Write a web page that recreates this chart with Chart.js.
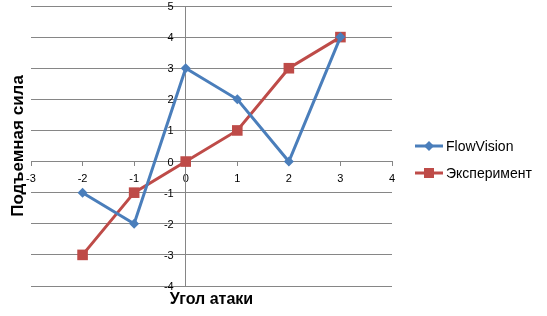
<!DOCTYPE html>
<html>
<head>
<meta charset="utf-8">
<script src="https://cdn.jsdelivr.net/npm/chart.js@4.4.1/dist/chart.umd.min.js"></script>
<style>
  html, body { margin: 0; padding: 0; background: #fff; overflow: hidden; }
  #wrap { width: 547px; height: 316px; position: relative; overflow: hidden; }
  /* line charts keep ~8px round the plot for the big markers; shift up 2px to match */
  #chart { position: absolute; left: 0; top: -2px; }
</style>
</head>
<body>
<div id="wrap"><canvas id="chart" width="547" height="318"></canvas></div>
<script>
// angle of attack vs lift
const anglesX = [-2, -1, 0, 1, 2, 3];
const flowVisionY = [-1, -2, 3, 2, 0, 4];
const experimentY = [-3, -1, 0, 1, 3, 4];
const seriesNames = ['FlowVision', 'Эксперимент'];
const xTitle = 'Угол атаки';
const yTitle = 'Подъемная сила';

const BLUE = '#4a7ebb';
const RED = '#be4b48';
const GRID = '#868686';
const FONT = '"Liberation Sans", Arial, sans-serif';
const SHIFT = 2; // canvas is moved up by this much

const toPoints = ys => anglesX.map((x, i) => ({ x, y: ys[i] }));

// no extra room for overflowing tick labels, layout padding decides the plot box
const noOverflow = scale => {
  scale.paddingTop = 0;
  scale.paddingBottom = 0;
  scale.paddingLeft = 0;
  scale.paddingRight = 0;
};

// axis titles, y tick labels (left of the crossing axis) + legend
const decorPlugin = {
  id: 'decor',
  afterDraw(chart) {
    const ctx = chart.ctx;
    const area = chart.chartArea;
    const xs = chart.scales.x, ys = chart.scales.y;

    // y tick labels, right aligned a bit left of the y axis
    ctx.save();
    ctx.fillStyle = '#000';
    ctx.font = '11px ' + FONT;
    ctx.textAlign = 'right';
    ctx.textBaseline = 'middle';
    const axisX = xs.getPixelForValue(0);
    ys.ticks.forEach(t => {
      ctx.fillText(String(t.value), axisX - 12, ys.getPixelForValue(t.value) + 1);
    });
    ctx.restore();

    ctx.save();
    ctx.fillStyle = '#000';
    ctx.textAlign = 'center';
    ctx.textBaseline = 'middle';
    ctx.font = 'bold 16px ' + FONT;
    ctx.fillText(xTitle, (area.left + area.right) / 2, 300 + SHIFT);
    ctx.font = 'bold 17px ' + FONT;
    ctx.translate(18, (area.top + area.bottom) / 2);
    ctx.rotate(-Math.PI / 2);
    ctx.fillText(yTitle, 0, 0);
    ctx.restore();

    // legend
    const items = [
      { name: seriesNames[0], color: BLUE, y: 146 + SHIFT, marker: 'diamond' },
      { name: seriesNames[1], color: RED, y: 173 + SHIFT, marker: 'square' }
    ];
    ctx.save();
    items.forEach(it => {
      ctx.strokeStyle = it.color;
      ctx.lineWidth = 3;
      ctx.beginPath();
      ctx.moveTo(415, it.y);
      ctx.lineTo(443, it.y);
      ctx.stroke();
      ctx.fillStyle = it.color;
      if (it.marker === 'diamond') {
        ctx.beginPath();
        ctx.moveTo(429, it.y - 5);
        ctx.lineTo(434, it.y);
        ctx.lineTo(429, it.y + 5);
        ctx.lineTo(424, it.y);
        ctx.closePath();
        ctx.fill();
      } else {
        ctx.fillRect(424, it.y - 5, 10, 10);
      }
      ctx.fillStyle = '#000';
      ctx.font = '14px ' + FONT;
      ctx.textAlign = 'left';
      ctx.textBaseline = 'middle';
      ctx.fillText(it.name, 446, it.y + 1);
    });
    ctx.restore();
  }
};

new Chart(document.getElementById('chart'), {
  type: 'scatter',
  data: {
    datasets: [
      {
        label: seriesNames[0],
        data: toPoints(flowVisionY),
        showLine: true,
        borderColor: BLUE,
        backgroundColor: BLUE,
        borderWidth: 3,
        pointStyle: 'rectRot',
        pointRadius: 5,
        pointBorderWidth: 0,
        tension: 0
      },
      {
        label: seriesNames[1],
        data: toPoints(experimentY),
        showLine: true,
        borderColor: RED,
        backgroundColor: RED,
        borderWidth: 3,
        pointStyle: 'rect',
        pointRadius: 7.5,
        pointBorderWidth: 0,
        tension: 0
      }
    ]
  },
  options: {
    responsive: false,
    animation: false,
    devicePixelRatio: 1,
    layout: { padding: { left: 31, top: 8, right: 155, bottom: 30 } },
    plugins: {
      legend: { display: false },
      tooltip: { enabled: false }
    },
    scales: {
      x: {
        type: 'linear',
        position: { y: 0 },
        min: -3,
        max: 4,
        afterFit: noOverflow,
        ticks: { stepSize: 1, color: '#000', font: { family: FONT, size: 11 }, padding: 7, maxRotation: 0 },
        grid: { drawOnChartArea: false, drawTicks: true, tickLength: 4, color: GRID, lineWidth: 1 },
        border: { color: GRID, width: 1 }
      },
      y: {
        type: 'linear',
        position: { x: 0 },
        min: -4,
        max: 5,
        afterFit: noOverflow,
        ticks: { stepSize: 1, display: false },
        grid: { color: GRID, lineWidth: 1, drawTicks: true, tickLength: 4 },
        border: { color: GRID, width: 1 }
      }
    }
  },
  plugins: [decorPlugin]
});
</script>
</body>
</html>
